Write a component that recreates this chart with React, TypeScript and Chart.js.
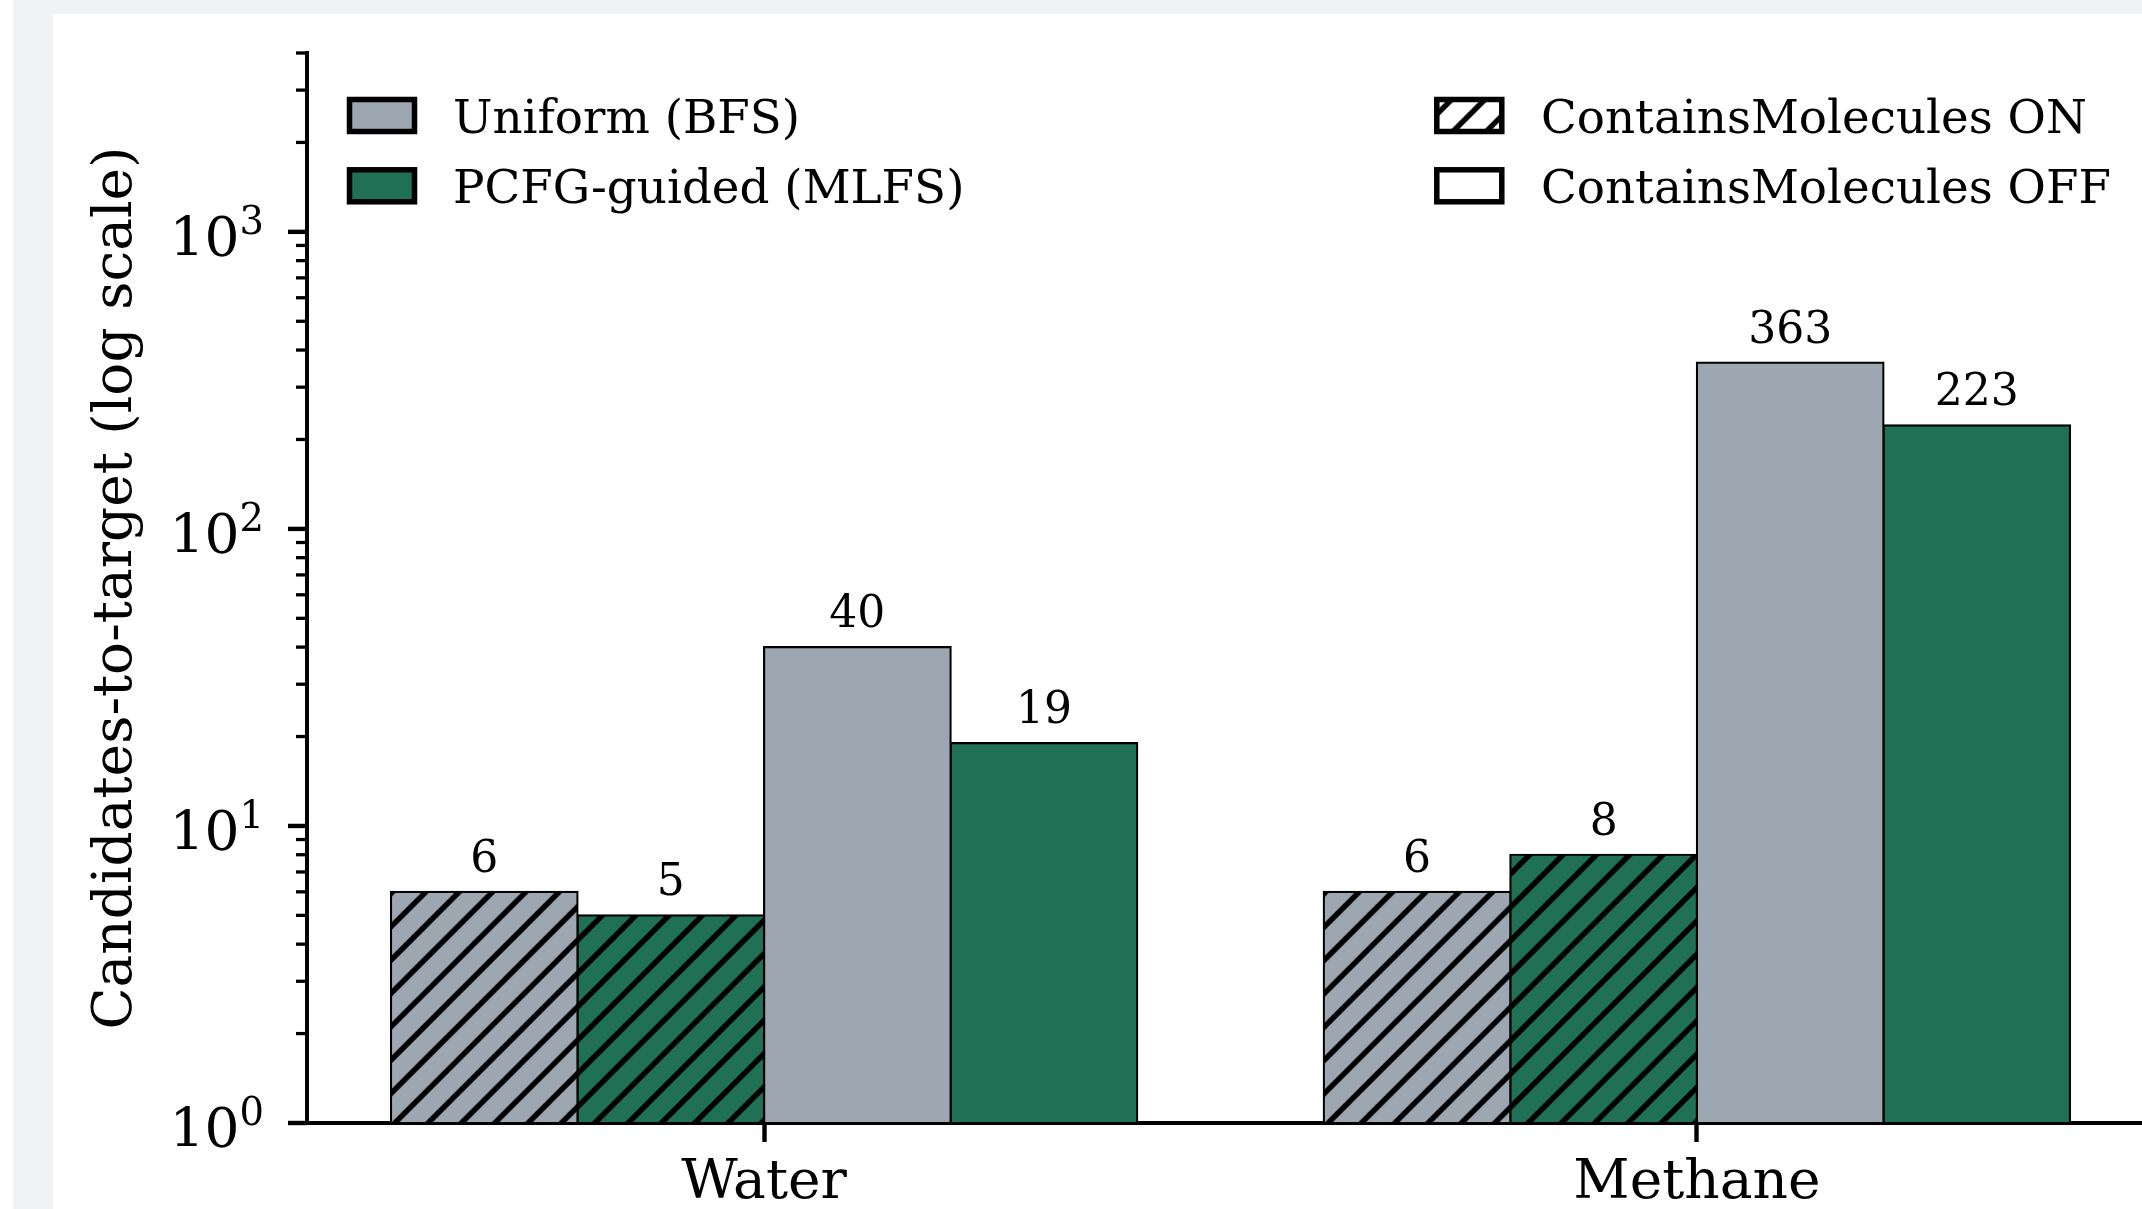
import React, { useEffect, useRef } from 'react';
import { Chart, registerables } from 'chart.js';

Chart.register(...registerables);

// ---- data ----
const categories = ['Water', 'Methane'];
const uniformOn = [6, 6];
const pcfgOn = [5, 8];
const uniformOff = [40, 363];
const pcfgOff = [19, 223];

const seriesLabels = ['Uniform (BFS)', 'PCFG-guided (MLFS)'];
const modeLabels = ['ContainsMolecules ON', 'ContainsMolecules OFF'];

const yMin = 1;
const yMax = 4000;
const xMin = -0.49;
const xMax = 1.49;
const majorTicks = [1, 10, 100, 1000];
const minorTicks = [2, 3, 4, 5, 6, 7, 8, 9, 20, 30, 40, 50, 60, 70, 80, 90, 200, 300, 400, 500, 600, 700, 800, 900, 2000, 3000, 4000];
const yTitle = 'Candidates-to-target (log scale)';

// ---- styles ----
const GRAY = '#9ca7b2';
const GREEN = '#1f7054';
const FONT = "'DejaVu Serif', serif";

function makeHatch(bg: string): CanvasPattern | string {
  const T = 100;
  const P = T / 3;
  const c = document.createElement('canvas');
  c.width = T;
  c.height = T;
  const g = c.getContext('2d');
  if (!g) return bg;
  g.fillStyle = bg;
  g.fillRect(0, 0, T, T);
  g.strokeStyle = '#000';
  g.lineWidth = 5.4;
  for (let k = -1; k <= 7; k++) {
    const s = k * P;
    g.beginPath();
    g.moveTo(s + 20, -20);
    g.lineTo(s - T - 20, T + 20);
    g.stroke();
  }
  const pat = g.createPattern(c, 'repeat');
  if (!pat) return bg;
  try {
    pat.setTransform(new DOMMatrix([1, 0, 0, 1, 17.7, 0]));
  } catch (e) {
    /* ignore */
  }
  return pat;
}

export default function App() {
  const ref = useRef<HTMLCanvasElement | null>(null);

  useEffect(() => {
    const canvas = ref.current;
    if (!canvas) return;
    const hatchGray = makeHatch(GRAY);
    const hatchGreen = makeHatch(GREEN);
    const hatchWhite = makeHatch('#ffffff');

    const toPts = (arr: number[]) => arr.map((v, i) => ({ x: i, y: v }));

    const overlay = {
      id: 'overlay',
      afterDatasetsDraw(chart: any) {
        const ctx = chart.ctx;
        ctx.save();
        ctx.fillStyle = '#000';
        ctx.font = `44px ${FONT}`;
        ctx.textAlign = 'center';
        ctx.textBaseline = 'alphabetic';
        chart.data.datasets.forEach((ds: any, di: number) => {
          const meta = chart.getDatasetMeta(di);
          meta.data.forEach((el: any, i: number) => {
            const v = ds.data[i].y;
            ctx.fillText(String(v), el.x, el.y - 20);
          });
        });
        ctx.restore();
      },
      afterDraw(chart: any) {
        const ctx = chart.ctx;
        const area = chart.chartArea;
        const ys = chart.scales.y;
        ctx.save();
        ctx.strokeStyle = '#000';
        ctx.fillStyle = '#000';
        // minor ticks
        ctx.lineWidth = 3.3;
        minorTicks.forEach((v) => {
          if (v > yMax) return;
          const y = ys.getPixelForValue(v);
          ctx.beginPath();
          ctx.moveTo(area.left - 11, y);
          ctx.lineTo(area.left, y);
          ctx.stroke();
        });
        // major ticks + labels
        ctx.lineWidth = 4.4;
        majorTicks.forEach((v) => {
          const y = ys.getPixelForValue(v);
          ctx.beginPath();
          ctx.moveTo(area.left - 19, y);
          ctx.lineTo(area.left, y);
          ctx.stroke();
          const exp = String(Math.round(Math.log10(v)));
          const right = area.left - 43;
          ctx.font = `38.5px ${FONT}`;
          const supW = ctx.measureText(exp).width;
          ctx.textAlign = 'left';
          ctx.textBaseline = 'alphabetic';
          ctx.fillText(exp, right - supW, y + 2);
          ctx.font = `55px ${FONT}`;
          ctx.textAlign = 'right';
          ctx.fillText('10', right - supW, y + 24);
        });

        // legends
        const boxW = 65;
        const boxH = 32;
        const rowY = [area.top + 62.5, area.top + 132.8];
        const drawEntry = (bx: number, tx: number, cy: number, fill: any, text: string) => {
          ctx.fillStyle = fill;
          ctx.fillRect(bx, cy - boxH / 2, boxW, boxH);
          ctx.lineWidth = 5.5;
          ctx.strokeStyle = '#000';
          ctx.strokeRect(bx, cy - boxH / 2, boxW, boxH);
          ctx.fillStyle = '#000';
          ctx.font = `46.8px ${FONT}`;
          ctx.textAlign = 'left';
          ctx.textBaseline = 'alphabetic';
          ctx.fillText(text, tx, cy + 17);
        };
        const leftBox = area.left + 42.5;
        const leftText = area.left + 146;
        const rightBox = area.left + 1129.8;
        const rightText = area.left + 1234;
        drawEntry(leftBox, leftText, rowY[0], GRAY, seriesLabels[0]);
        drawEntry(leftBox, leftText, rowY[1], GREEN, seriesLabels[1]);
        drawEntry(rightBox, rightText, rowY[0], hatchWhite, modeLabels[0]);
        drawEntry(rightBox, rightText, rowY[1], '#ffffff', modeLabels[1]);
        ctx.restore();
      },
    };

    const common = {
      borderColor: '#000',
      borderWidth: 2.2,
      borderSkipped: false,
      inflateAmount: 1.1,
      categoryPercentage: 0.8,
      barPercentage: 1.0,
    };

    const chart = new Chart(canvas, {
      type: 'bar',
      data: {
        datasets: [
          { label: seriesLabels[0] + ' ON', data: toPts(uniformOn), backgroundColor: hatchGray, ...common },
          { label: seriesLabels[1] + ' ON', data: toPts(pcfgOn), backgroundColor: hatchGreen, ...common },
          { label: seriesLabels[0] + ' OFF', data: toPts(uniformOff), backgroundColor: GRAY, ...common },
          { label: seriesLabels[1] + ' OFF', data: toPts(pcfgOff), backgroundColor: GREEN, ...common },
        ] as any,
      },
      options: {
        responsive: false,
        animation: false,
        devicePixelRatio: 1,
        layout: { padding: { left: 0, right: 6, top: 53, bottom: 0 } },
        plugins: {
          legend: { display: false },
          tooltip: { enabled: false },
        },
        scales: {
          x: {
            type: 'linear',
            min: xMin,
            max: xMax,
            offset: false,
            afterBuildTicks: (scale: any) => {
              scale.ticks = categories.map((_, i) => ({ value: i }));
            },
            afterFit: (scale: any) => {
              scale.height = 86;
            },
            ticks: {
              autoSkip: false,
              maxRotation: 0,
              padding: 9,
              color: '#000',
              font: { family: FONT, size: 55 },
              callback: (v: any) => categories[Math.round(Number(v))] ?? '',
            },
            grid: {
              display: true,
              offset: false,
              drawOnChartArea: false,
              drawTicks: true,
              tickLength: 19,
              tickWidth: 4.4,
              tickColor: '#000',
              color: '#000',
            },
            border: { display: true, color: '#000', width: 4 },
          },
          y: {
            type: 'logarithmic',
            min: yMin,
            max: yMax,
            afterFit: (scale: any) => {
              scale.width = 307;
            },
            ticks: { display: false },
            grid: { display: false },
            border: { display: true, color: '#000', width: 4 },
            title: {
              display: true,
              text: yTitle,
              color: '#000',
              font: { family: FONT, size: 55 },
              padding: { top: 84, bottom: 0 },
            },
          },
        } as any,
      },
      plugins: [overlay],
    });
    return () => chart.destroy();
  }, []);

  return (
    <div style={{ position: 'fixed', left: 0, top: 0, right: 0, bottom: 0, overflow: 'hidden', background: '#ffffff' }}>
      <div style={{ position: 'absolute', left: 13, top: 0, right: 0, bottom: 0, background: '#f1f2f6' }} />
      <div style={{ position: 'absolute', left: 53, top: 14, width: 2300, height: 1400, background: '#ffffff' }} />
      <canvas ref={ref} width={2160} height={1209} style={{ position: 'absolute', left: 0, top: 0, width: 2160, height: 1209 }} />
    </div>
  );
}
